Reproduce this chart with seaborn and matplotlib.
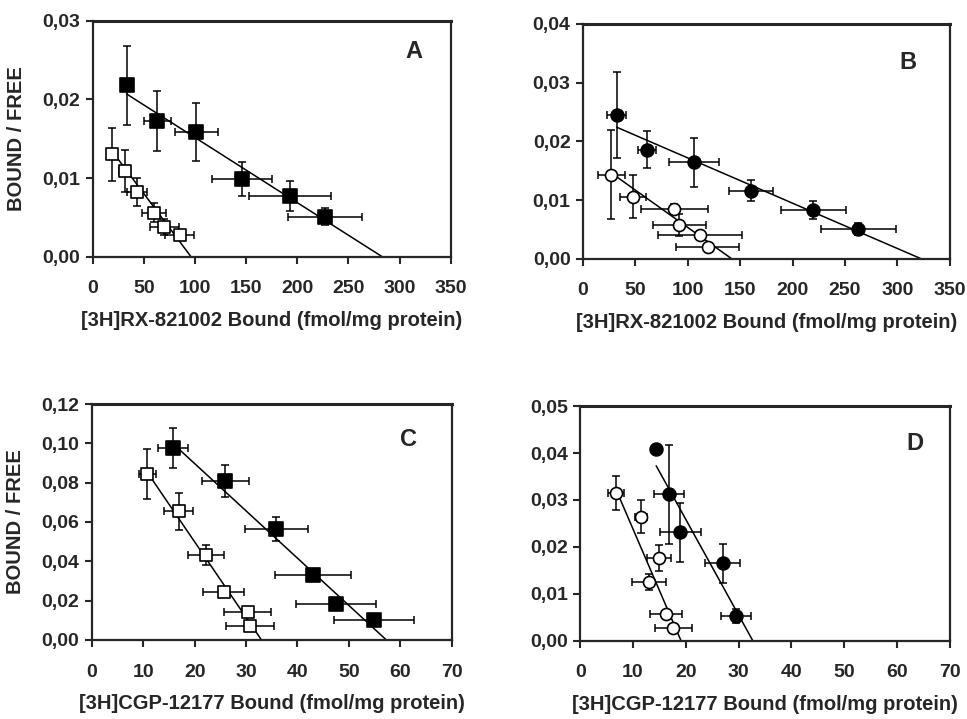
import numpy as np
import pandas as pd
import matplotlib
matplotlib.use("Agg")
import matplotlib.pyplot as plt
import seaborn as sns
from matplotlib.ticker import FuncFormatter

# panel A: [3H]RX-821002, squares
a_fill_x = [33, 63, 101, 146, 193, 227]
a_fill_y = [0.0218, 0.0173, 0.0159, 0.0099, 0.0077, 0.0051]
a_fill_xerr = [0, 13, 21, 29, 40, 36]
a_fill_yerr = [0.0050, 0.0038, 0.0037, 0.0022, 0.0019, 0.0011]
a_open_x = [19, 31, 43, 60, 70, 85]
a_open_y = [0.0130, 0.0109, 0.0082, 0.0056, 0.0038, 0.0028]
a_open_xerr = [0, 5, 10, 12, 14, 14]
a_open_yerr = [0.0034, 0.0027, 0.0018, 0.0012, 0.0010, 0.0006]
a_fit_fill = [33, 0.0207, 283]   # start x, start y, x-intercept
a_fit_open = [19, 0.0134, 96]

# panel B: [3H]RX-821002, circles
b_fill_x = [32, 61, 106, 160, 220, 263]
b_fill_y = [0.0245, 0.0186, 0.0164, 0.0116, 0.0083, 0.0051]
b_fill_xerr = [9, 9, 24, 21, 31, 36]
b_fill_yerr = [0.0073, 0.0032, 0.0042, 0.0018, 0.0016, 0.0010]
b_open_x = [27, 48, 87, 92, 112, 119]
b_open_y = [0.0143, 0.0106, 0.0085, 0.0058, 0.0041, 0.0020]
b_open_xerr = [12.6, 12.5, 32, 25, 40, 30]
b_open_yerr = [0.0076, 0.0037, 0.0008, 0.0019, 0.0007, 0.0005]
b_fit_fill = [32, 0.0224, 323]
b_fit_open = [27, 0.0146, 142]

# panel C: [3H]CGP-12177, squares
c_fill_x = [15.8, 26, 35.9, 43, 47.5, 54.9]
c_fill_y = [0.0976, 0.0807, 0.0565, 0.0329, 0.0182, 0.0101]
c_fill_xerr = [3, 4.6, 6.1, 7.4, 7.8, 7.8]
c_fill_yerr = [0.0100, 0.0082, 0.0060, 0, 0, 0]
c_open_x = [10.8, 16.9, 22.2, 25.7, 30.3, 30.8]
c_open_y = [0.0844, 0.0655, 0.0432, 0.0246, 0.0143, 0.0073]
c_open_xerr = [1.7, 2.8, 3.5, 4, 4.6, 4.7]
c_open_yerr = [0.0125, 0.0095, 0.0053, 0.0015, 0, 0]
c_fit_fill = [17.1, 0.0967, 57.3]
c_fit_open = [10.8, 0.0852, 33]

# panel D: [3H]CGP-12177, circles
d_fill_x = [14.4, 16.8, 19, 27, 29.5]
d_fill_y = [0.0408, 0.0312, 0.0231, 0.0165, 0.0052]
d_fill_xerr = [0, 2.8, 3.8, 3.3, 2.8]
d_fill_yerr = [0, 0.0105, 0.0063, 0.0042, 0.0015]
d_open_x = [6.8, 11.5, 15, 13.1, 16.3, 17.6]
d_open_y = [0.0315, 0.0264, 0.0176, 0.0125, 0.0056, 0.0026]
d_open_xerr = [1.5, 1.2, 2.3, 3.2, 3, 3.5]
d_open_yerr = [0.0036, 0.0035, 0.0027, 0.0018, 0, 0]
d_fit_fill = [14.4, 0.0373, 32.7]
d_fit_open = [6.8, 0.0322, 19.1]

sns.set_style("ticks")
plt.rcParams['font.family'] = ['Liberation Sans', 'DejaVu Sans']
plt.rcParams['font.weight'] = 'bold'

fig = plt.figure(figsize=(9.67, 7.19), dpi=100)
boxes = {
    'A': [0.096, 0.643, 0.370, 0.328],
    'B': [0.603, 0.640, 0.379, 0.327],
    'C': [0.095, 0.110, 0.372, 0.328],
    'D': [0.600, 0.109, 0.382, 0.326],
}

panels = [
    ('A', 's', (a_fill_x, a_fill_y, a_fill_xerr, a_fill_yerr, a_fit_fill),
     (a_open_x, a_open_y, a_open_xerr, a_open_yerr, a_fit_open),
     350, 50, 0.03, 0.01, "[3H]RX-821002 Bound (fmol/mg protein)", True, (0.897, 0.87)),
    ('B', 'o', (b_fill_x, b_fill_y, b_fill_xerr, b_fill_yerr, b_fit_fill),
     (b_open_x, b_open_y, b_open_xerr, b_open_yerr, b_fit_open),
     350, 50, 0.04, 0.01, "[3H]RX-821002 Bound (fmol/mg protein)", False, (0.886, 0.834)),
    ('C', 's', (c_fill_x, c_fill_y, c_fill_xerr, c_fill_yerr, c_fit_fill),
     (c_open_x, c_open_y, c_open_xerr, c_open_yerr, c_fit_open),
     70, 10, 0.12, 0.02, "[3H]CGP-12177 Bound (fmol/mg protein)", True, (0.88, 0.848)),
    ('D', 'o', (d_fill_x, d_fill_y, d_fill_xerr, d_fill_yerr, d_fit_fill),
     (d_open_x, d_open_y, d_open_xerr, d_open_yerr, d_fit_open),
     70, 10, 0.05, 0.01, "[3H]CGP-12177 Bound (fmol/mg protein)", False, (0.905, 0.843)),
]

comma = FuncFormatter(lambda v, p: f"{v:.2f}".replace('.', ','))

for name, mk, filled, opened, xmax, xstep, ymax, ystep, xlabel, showy, lpos in panels:
    ax = fig.add_axes(boxes[name])
    for (xs, ys, xe, ye, fit), face in [(opened, 'white'), (filled, 'black')]:
        # fitted Scatchard line
        line = pd.DataFrame({'x': [fit[0], fit[2]], 'y': [fit[1], 0.0]})
        sns.lineplot(data=line, x='x', y='y', ax=ax, color='black', lw=1.1,
                     sort=False, zorder=2)
        ax.errorbar(xs, ys, xerr=xe, yerr=ye, fmt='none', ecolor='black',
                    elinewidth=1.1, capsize=3, capthick=1.1, zorder=3)
        df = pd.DataFrame({'x': xs, 'y': ys})
        sz = 100 if mk == 's' else 85
        if face == 'white':
            sz = 75
        sns.scatterplot(data=df, x='x', y='y', ax=ax, marker=mk, s=sz,
                        color=face, edgecolor='black', linewidth=1.2, zorder=4)
    ax.set_xlim(0, xmax)
    ax.set_ylim(0, ymax)
    ax.set_xticks(np.arange(0, xmax + xstep / 2, xstep))
    ax.set_yticks(np.arange(0, ymax + ystep / 2, ystep))
    ax.yaxis.set_major_formatter(comma)
    ax.tick_params(direction='out', length=5, width=1.5, labelsize=14)
    ax.tick_params(axis='x', pad=12)
    ax.tick_params(axis='y', pad=4)
    for lab in ax.get_xticklabels() + ax.get_yticklabels():
        lab.set_fontweight('bold')
    for sp in ax.spines.values():
        sp.set_visible(True)
        sp.set_linewidth(1.6)
    ax.spines['top'].set_linewidth(2.2)
    ax.set_xlabel(xlabel, fontsize=14.5, fontweight='bold', labelpad=10)
    if showy:
        ax.set_ylabel("BOUND / FREE", fontsize=14.5, fontweight='bold', labelpad=12)
    else:
        ax.set_ylabel("")
    ax.text(lpos[0], lpos[1], name, transform=ax.transAxes, fontsize=17,
            fontweight='bold', ha='center', va='center')

fig.savefig("out.png", dpi=100)
